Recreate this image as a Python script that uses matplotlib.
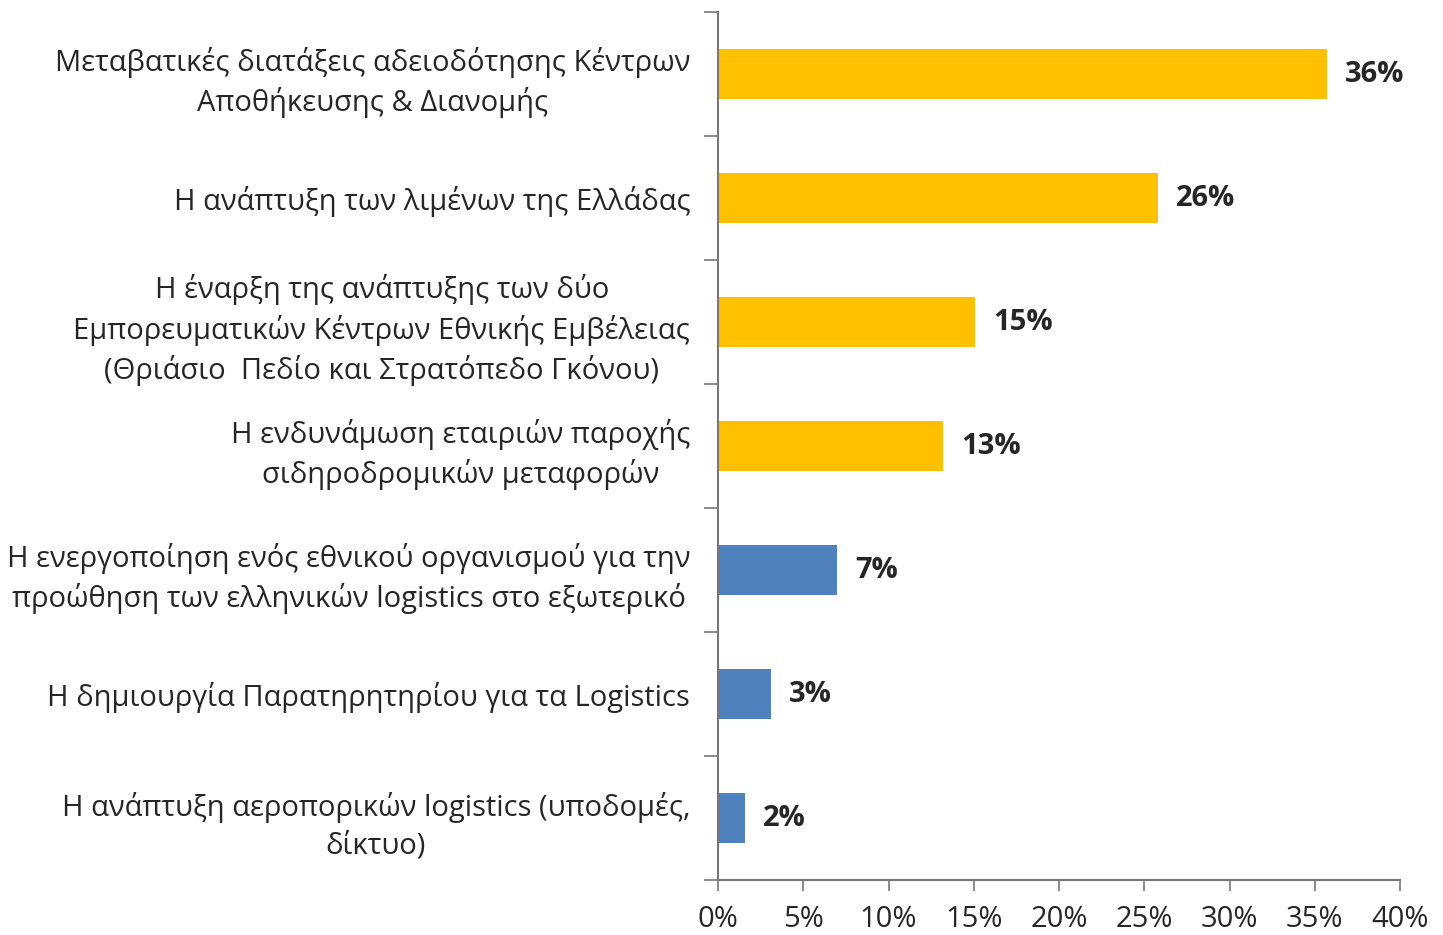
import matplotlib
matplotlib.use("Agg")
from matplotlib import pyplot as plt
from matplotlib.ticker import FixedLocator

# data
labels = [
    "Μεταβατικές διατάξεις αδειοδότησης Κέντρων\nΑποθήκευσης & Διανομής",
    "Η ανάπτυξη των λιμένων της Ελλάδας",
    "Η έναρξη της ανάπτυξης των δύο\nΕμπορευματικών Κέντρων Εθνικής Εμβέλειας\n(Θριάσιο  Πεδίο και Στρατόπεδο Γκόνου)",
    "Η ενδυνάμωση εταιριών παροχής\nσιδηροδρομικών μεταφορών",
    "Η ενεργοποίηση ενός εθνικού οργανισμού για την\nπροώθηση των ελληνικών logistics στο εξωτερικό",
    "Η δημιουργία Παρατηρητηρίου για τα Logistics",
    "Η ανάπτυξη αεροπορικών logistics (υποδομές,\nδίκτυο)",
]
values = [35.7, 25.8, 15.1, 13.2, 7.0, 3.1, 1.6]
value_text = ["36%", "26%", "15%", "13%", "7%", "3%", "2%"]
colors = ["#FFC000"] * 4 + ["#4F81BD"] * 3
xticks = list(range(0, 41, 5))

plt.rcParams['font.family'] = ['Open Sans', 'DejaVu Sans']

fig = plt.figure(figsize=(14.43, 9.35), dpi=100)
ax = fig.add_axes([718/1443, 1 - 880/935, (1400-718)/1443, (880-12)/935])

n = len(values)
ypos = list(range(n))
ax.barh(ypos, values, height=0.4, color=colors)
ax.set_ylim(n - 0.5, -0.5)
ax.set_xlim(0, 40)

for y, v, t in zip(ypos, values, value_text):
    ax.text(v + 1.05, y, t, va="center", ha="left", fontsize=21, fontweight="bold", color="#262626")

ax.set_yticks(ypos)
ax.set_yticklabels(labels, fontsize=21, color="#262626", ha="right",
                   multialignment="center", linespacing=1.4)
ax.tick_params(axis="y", length=0, pad=20)
ax.yaxis.set_minor_locator(FixedLocator([i - 0.5 for i in range(n + 1)]))
ax.tick_params(axis="y", which="minor", length=10, width=1.2, color="#777777")

ax.set_xticks(xticks)
ax.set_xticklabels([f"{x}%" for x in xticks], fontsize=21, color="#262626")
ax.tick_params(axis="x", length=8, width=1.2, color="#777777", pad=10)

for s in ["top", "right"]:
    ax.spines[s].set_visible(False)
for s in ["left", "bottom"]:
    ax.spines[s].set_color("#777777")
    ax.spines[s].set_linewidth(1.5)

fig.savefig("out.png", dpi=100)
